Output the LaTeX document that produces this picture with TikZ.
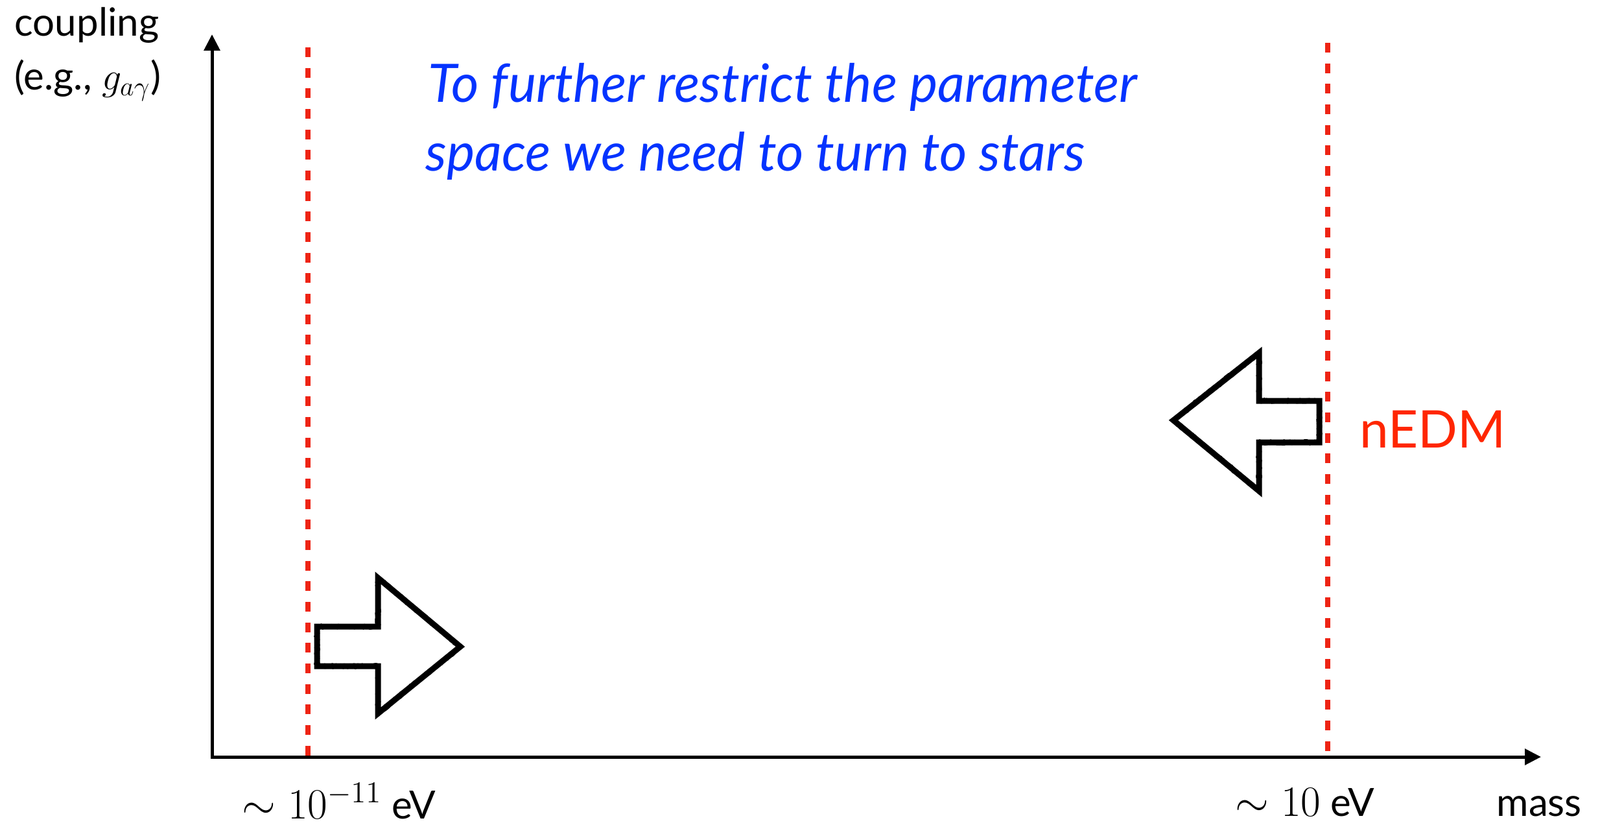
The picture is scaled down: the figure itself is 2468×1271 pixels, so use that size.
\RequirePackage{fix-cm}
\documentclass[tikz,border=0pt]{standalone}
\usepackage{fontspec}
\newfontfamily\lato{Lato}
\usetikzlibrary{arrows.meta,decorations.pathmorphing}
\definecolor{limred}{RGB}{238,36,20}
\definecolor{nedmred}{RGB}{255,38,0}
\definecolor{noteblue}{RGB}{4,51,255}
\tikzset{
  axisline/.style={line width=1.5pt},
  limitline/.style={limred, line width=2.4pt, dash pattern=on 4.5pt off 5pt},
  sketchy/.style={line width=2.7pt, line join=miter, miter limit=4},
  sketchrough/.style={line width=0.8pt, line join=round, decorate, decoration={random steps, segment length=1.1pt, amplitude=1.1pt}},
  lbl/.style={inner sep=0pt, anchor=base west},
  sanslbl/.style={lbl, font=\lato\fontsize{18}{21}\selectfont},
  notelbl/.style={lbl, text=noteblue, font=\lato\itshape\fontsize{24.5}{28}\selectfont},
}
\begin{document}
\begin{tikzpicture}[x=0.3pt,y=-0.3pt]
\useasboundingbox (0,0) rectangle (2468,1271);
% axes
\coordinate (O) at (327,1167);
\coordinate (ytop) at (327,53);
\coordinate (xend) at (2377,1167);
\draw[axisline, {Triangle[length=7.5pt,width=7.3pt]}-{Triangle[length=7.5pt,width=7.3pt]}] (ytop) -- (O) -- (xend);
% limit lines
\coordinate (l1t) at (475,73);
\coordinate (l1b) at (475,1177);
\coordinate (l2t) at (2048,66);
\coordinate (l2b) at (2048,1172);
\draw[limitline] (l1t) -- (l1b);
\draw[limitline] (l2t) -- (l2b);
% sketchy arrows
\foreach \st in {sketchy, sketchrough, sketchrough, sketchrough}{
  \draw[\st] (489,966) -- (583,966) -- (583,891) -- (710,997) -- (583,1100) -- (583,1027) -- (489,1027) -- cycle;
  \draw[\st] (2035,618) -- (1942,618) -- (1942,544) -- (1810,648) -- (1942,757) -- (1942,682) -- (2035,682) -- cycle;
}
% labels
\node[sanslbl] (coup) at (22,55) {coupling};
\node[sanslbl] (eg) at (22,138) {(e.g., $g_{a\gamma}$)};
\node[notelbl] (note1) at (660,157) {To further restrict the parameter};
\node[notelbl] (note2) at (656,263) {space we need to turn to stars};
\node[lbl, text=nedmred, font=\lato\fontsize{24}{28}\selectfont] (nedm) at (2097,690) {nEDM};
\node[sanslbl] (mass) at (2308,1258) {mass};
\node[sanslbl] (m1) at (373,1262) {{\fontsize{20}{22}\selectfont$\sim 10^{-11}$} eV};
\node[sanslbl] (m2) at (1905,1258) {{\fontsize{20}{22}\selectfont$\sim 10$} eV};
\end{tikzpicture}
\end{document}
